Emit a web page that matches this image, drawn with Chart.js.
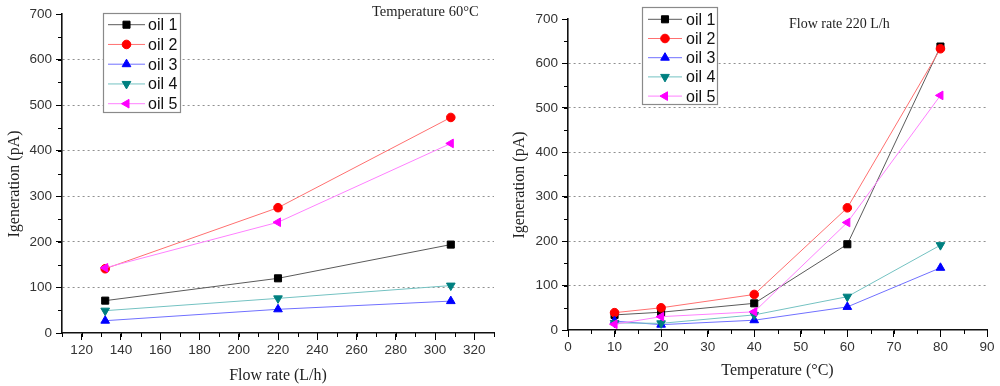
<!DOCTYPE html>
<html>
<head>
<meta charset="UTF-8">
<title>Igeneration vs flow rate and temperature</title>
<script src="https://cdn.jsdelivr.net/npm/chart.js@4/dist/chart.umd.min.js"></script>
<style>
body { margin: 0; background: #fff; }
.pane { position: absolute; top: 0; width: 500px; height: 386px; }
</style>
</head>
<body>
<div class="pane" style="left:0"><canvas id="flowChart" width="500" height="386"></canvas></div>
<div class="pane" style="left:500px"><canvas id="tempChart" width="500" height="386"></canvas></div>
<script>
// values
var oilNames = ["oil 1", "oil 2", "oil 3", "oil 4", "oil 5"];

// left: Temperature 60°C, x = flow rate (L/h)
var flowRates = [132, 220, 308];
var flowOil1 = [71, 120, 194];
var flowOil2 = [141, 275, 473];
var flowOil3 = [27, 52, 70];
var flowOil4 = [49, 76, 104];
var flowOil5 = [143, 243, 416];

// right: Flow rate 220 L/h, x = temperature (°C)
var temperatures = [10, 20, 40, 60, 80];
var tempOil1 = [34, 40, 60, 193, 638];
var tempOil2 = [39, 50, 80, 275, 633];
var tempOil3 = [20, 12, 22, 52, 140];
var tempOil4 = [16, 15, 34, 75, 191];
var tempOil5 = [13, 30, 41, 242, 528];

var flowTicks = [120, 140, 160, 180, 200, 220, 240, 260, 280, 300, 320];
var tempTicks = [0, 10, 20, 30, 40, 50, 60, 70, 80, 90];
var yTicks = [0, 100, 200, 300, 400, 500, 600, 700];

// styles
var markerColors = ["#000000", "#ff0000", "#0000ff", "#008080", "#ff00ff"];
var lineColors = ["#5a5a5a", "#ff7070", "#7070ff", "#74c2c2", "#ff80ff"];
var markerShapes = ["rect", "circle", "triangle", "triangle", "triangle"];
var markerTurn = [0, 0, 0, 180, 270];
var markerSize = [5, 4.3, 5, 5, 5];

var sansFont = "'Liberation Sans', Arial, sans-serif";
var serifFont = "'Liberation Serif', 'Times New Roman', serif";

function makeDatasets(xs, seriesList) {
    var sets = [];
    for (var i = 0; i < seriesList.length; i++) {
        var pts = [];
        for (var j = 0; j < xs.length; j++) {
            pts.push({x: xs[j], y: seriesList[i][j]});
        }
        sets.push({
            label: oilNames[i],
            data: pts,
            borderColor: lineColors[i],
            borderWidth: 1,
            backgroundColor: markerColors[i],
            pointBackgroundColor: markerColors[i],
            pointBorderColor: markerColors[i],
            pointBorderWidth: 1,
            pointStyle: markerShapes[i],
            pointRotation: markerTurn[i],
            pointRadius: markerSize[i],
            pointHoverRadius: markerSize[i],
            order: seriesList.length - i,
            tension: 0
        });
    }
    return sets;
}

// minor ticks, axis/heading text and the boxed legend
var decorPlugin = {
    id: "decor",
    afterDraw: function(chart) {
        var o = chart.options.plugins.decor;
        var ctx = chart.ctx;
        var xs = chart.scales.x, ys = chart.scales.y;
        ctx.save();
        ctx.strokeStyle = "#000";
        ctx.lineWidth = 1;
        ctx.beginPath();
        var start = Math.ceil(xs.min / o.minorX) * o.minorX;
        for (var v = start; v <= xs.max + 0.001; v += o.minorX) {
            var px = Math.round(xs.getPixelForValue(v)) + 0.5;
            ctx.moveTo(px, xs.top);
            ctx.lineTo(px, xs.top + 4);
        }
        for (var w = ys.min; w <= ys.max + 0.001; w += o.minorY) {
            var py = Math.round(ys.getPixelForValue(w)) + 0.5;
            ctx.moveTo(ys.right, py);
            ctx.lineTo(ys.right - 4, py);
        }
        ctx.stroke();

        ctx.fillStyle = "#222";
        ctx.font = o.noteSize + "px " + serifFont;
        ctx.textAlign = "left";
        ctx.textBaseline = "middle";
        ctx.fillText(o.note, o.noteX, o.noteY);

        // y axis title
        ctx.save();
        ctx.font = "16px " + serifFont;
        ctx.textAlign = "center";
        ctx.translate(o.yTitleX, o.yTitleY);
        ctx.rotate(-Math.PI / 2);
        ctx.fillText("Igeneration (pA)", 0, 0);
        ctx.restore();

        var L = o.legend;
        ctx.fillStyle = "#fff";
        ctx.fillRect(L.x, L.y, L.w + 1, L.h + 1);
        ctx.strokeStyle = "#8a8a8a";
        ctx.lineWidth = 1.2;
        ctx.strokeRect(L.x + 0.5, L.y + 0.5, L.w, L.h);
        ctx.font = "16px " + sansFont;
        ctx.textAlign = "left";
        chart.data.datasets.forEach(function(ds, i) {
            var cy = L.y + L.first + i * L.row;
            ctx.strokeStyle = ds.borderColor;
            ctx.lineWidth = 1;
            ctx.beginPath();
            ctx.moveTo(L.line0, cy);
            ctx.lineTo(L.line1, cy);
            ctx.stroke();
            ctx.fillStyle = ds.pointBackgroundColor;
            ctx.strokeStyle = ds.pointBorderColor;
            Chart.helpers.drawPoint(ctx, {
                pointStyle: ds.pointStyle,
                radius: ds.pointRadius,
                rotation: ds.pointRotation,
                borderWidth: 1
            }, (L.line0 + L.line1) / 2, cy);
            ctx.fillStyle = "#111";
            ctx.fillText(ds.label, L.text, cy + 1);
        });
        ctx.restore();
    }
};

function makeScales(xMin, xMax, xTickList, xTitle, yWidth, xHeight, xTitlePad) {
    var tickFont = {family: sansFont, size: 13.5};
    return {
        x: {
            type: "linear",
            min: xMin,
            max: xMax,
            afterBuildTicks: function(s) { s.ticks = xTickList.map(function(v) { return {value: v}; }); },
            afterFit: function(s) { s.height = xHeight; },
            grid: { drawOnChartArea: false, drawTicks: true, tickLength: 7, tickColor: "#000", tickWidth: 1 },
            border: { color: "#111", width: 1.6 },
            ticks: { font: tickFont, color: "#333", padding: 2, maxRotation: 0, autoSkip: false },
            title: { display: true, text: xTitle, font: {family: serifFont, size: 16}, color: "#222",
                     padding: {top: 0, bottom: xTitlePad} }
        },
        y: {
            type: "linear",
            min: 0,
            max: 700,
            afterBuildTicks: function(s) { s.ticks = yTicks.map(function(v) { return {value: v}; }); },
            afterFit: function(s) { s.width = yWidth; },
            grid: {
                drawTicks: true, tickLength: 6, tickColor: "#000", tickWidth: 1, tickBorderDash: [],
                color: function(c) { return (c.tick && c.tick.value > 0 && c.tick.value < 700) ? "#909090" : "rgba(0,0,0,0)"; },
                lineWidth: 1
            },
            border: { color: "#111", width: 1.6, dash: [2, 3] },
            ticks: { font: tickFont, color: "#333", padding: 4, autoSkip: false },
            title: { display: false }
        }
    };
}

new Chart(document.getElementById("flowChart"), {
    type: "line",
    data: { datasets: makeDatasets(flowRates, [flowOil1, flowOil2, flowOil3, flowOil4, flowOil5]) },
    options: {
        responsive: false,
        animation: false,
        layout: { padding: {left: 0, top: 14, right: 3, bottom: 0} },
        scales: makeScales(110, 330, flowTicks, "Flow rate (L/h)", 62, 53, 1),
        plugins: {
            legend: { display: false },
            tooltip: { enabled: false },
            decor: {
                minorX: 10, minorY: 50,
                note: "Temperature 60°C", noteX: 372, noteY: 12, noteSize: 14.5,
                yTitleX: 15, yTitleY: 184,
                legend: {x: 103, y: 13, w: 77, h: 99, first: 11.7, row: 19.75, line0: 108, line1: 145, text: 148}
            }
        }
    },
    plugins: [decorPlugin]
});

new Chart(document.getElementById("tempChart"), {
    type: "line",
    data: { datasets: makeDatasets(temperatures, [tempOil1, tempOil2, tempOil3, tempOil4, tempOil5]) },
    options: {
        responsive: false,
        animation: false,
        layout: { padding: {left: 0, top: 19, right: 13, bottom: 0} },
        scales: makeScales(0, 90, tempTicks, "Temperature (°C)", 68, 56, 6),
        plugins: {
            legend: { display: false },
            tooltip: { enabled: false },
            decor: {
                minorX: 5, minorY: 50,
                note: "Flow rate 220 L/h", noteX: 289, noteY: 24, noteSize: 14,
                yTitleX: 20, yTitleY: 185,
                legend: {x: 142, y: 7, w: 75, h: 97, first: 12.3, row: 19.2, line0: 148, line1: 182, text: 186}
            }
        }
    },
    plugins: [decorPlugin]
});
</script>
</body>
</html>
